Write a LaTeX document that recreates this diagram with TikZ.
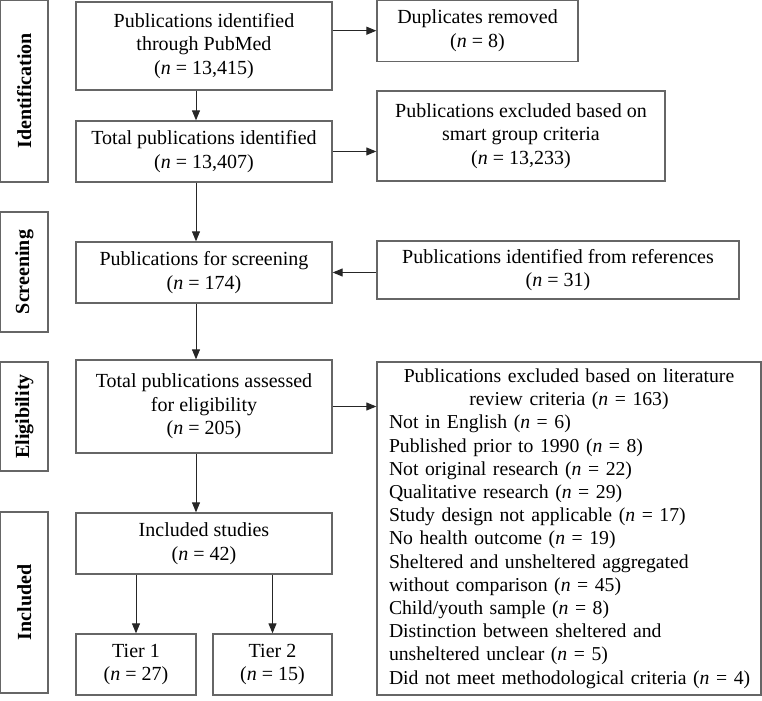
\documentclass[tikz,border=0pt]{standalone}
\usepackage{fontspec}
\setmainfont{Liberation Serif}
\usetikzlibrary{arrows.meta,positioning}

\begin{document}
\begin{tikzpicture}[
        x=0.5pt, y=-0.5pt,
        every node/.style={font=\fontsize{10}{11.7}\selectfont},
        box/.style={draw=black!60, line width=0.65pt, align=center, inner sep=2pt},
        phase/.style={draw=black!60, line width=0.65pt, rotate=90,
            font=\fontsize{10}{12}\selectfont\bfseries, minimum height=23.75pt},
        flow/.style={-{Triangle[length=5pt,width=4pt]}, line width=0.5pt, black!85}
    ]
    \useasboundingbox (0,0) rectangle (762,701);
    \coordinate (spine) at (196,0);

    % ================= phase labels =========================
    \node[phase, minimum width=91pt] (idph) at (24.3,91) {Identification};
    \node[phase, minimum width=60pt] (scph) at (24.3,272) {Screening};
    \node[phase, minimum width=54.5pt] (elph) at (24.3,416.5) {Eligibility};
    \node[phase, minimum width=90.5pt] (inph) at (24.3,602.5) {Included};

    % ================= main column =========================
    \node[box, minimum width=128pt, minimum height=44pt] (pubmed) at (204,46)
    {Publications identified\\through PubMed\\(\textit{n} = 13,415)};
    \node[box, minimum width=128pt, minimum height=30.5pt] (total) at (204,151.5)
    {Total publications identified\\(\textit{n} = 13,407)};
    \node[box, minimum width=128pt, minimum height=30.5pt] (screen) at (204,272.5)
    {Publications for screening\\(\textit{n} = 174)};
    \node[box, minimum width=128pt, minimum height=46.5pt] (assess) at (204,406.5)
    {Total publications assessed\\for eligibility\\(\textit{n} = 205)};
    \node[box, minimum width=128pt, minimum height=30.5pt] (incl) at (204,543.5)
    {Included studies\\(\textit{n} = 42)};
    \node[box, minimum width=60pt, minimum height=30.5pt] (tierA) at (136,664.5)
    {Tier 1\\(\textit{n} = 27)};
    \node[box, minimum width=59.5pt, minimum height=30.5pt] (tierB) at (272.5,664.5)
    {Tier 2\\(\textit{n} = 15)};

    % ================= side boxes =========================
    \node[box, minimum width=100.5pt, minimum height=30.5pt] (dupl) at (477.5,30.7)
    {Duplicates removed\\(\textit{n} = 8)};
    \node[box, minimum width=144pt, minimum height=45pt] (smart) at (521,136)
    {Publications excluded based on\\smart group criteria\\(\textit{n} = 13,233)};
    \node[box, minimum width=181pt, minimum height=29pt] (refs) at (558,270)
    {Publications identified from references\\(\textit{n} = 31)};
    \node[draw=black!60, line width=0.65pt, inner xsep=6pt, inner ysep=1pt,
        text width=180pt, minimum height=166.5pt,
        font=\fontsize{9.85}{11.6}\selectfont] (litrev) at (569,528.5)
    {{\centering Publications excluded based on literature\\
            review criteria (\textit{n} = 163)\par}\raggedright
        Not in English (\textit{n} = 6)\\
        Published prior to 1990 (\textit{n} = 8)\\
        Not original research (\textit{n} = 22)\\
        Qualitative research (\textit{n} = 29)\\
        Study design not applicable (\textit{n} = 17)\\
        No health outcome (\textit{n} = 19)\\
        Sheltered and unsheltered aggregated\\
        without comparison (\textit{n} = 45)\\
        Child/youth sample (\textit{n} = 8)\\
        Distinction between sheltered and\\
        unsheltered unclear (\textit{n} = 5)\\
        \mbox{Did not meet methodological criteria (\textit{n} = 4)}};

    % ================= connectors =========================
    \draw[flow] (pubmed.south -| spine) -- (total.north -| spine);
    \draw[flow] (total.south -| spine) -- (screen.north -| spine);
    \draw[flow] (screen.south -| spine) -- (assess.north -| spine);
    \draw[flow] (assess.south -| spine) -- (incl.north -| spine);
    \draw[flow] (incl.south -| tierA.north) -- (tierA.north);
    \draw[flow] (incl.south -| tierB.north) -- (tierB.north);

    \draw[flow] (pubmed.east |- dupl.west) -- (dupl.west);
    \draw[flow] (total.east) -- (smart.west |- total.east);
    \draw[flow] (refs.west |- screen.east) -- (screen.east);
    \draw[flow] (assess.east) -- (litrev.west |- assess.east);
\end{tikzpicture}
\end{document}
